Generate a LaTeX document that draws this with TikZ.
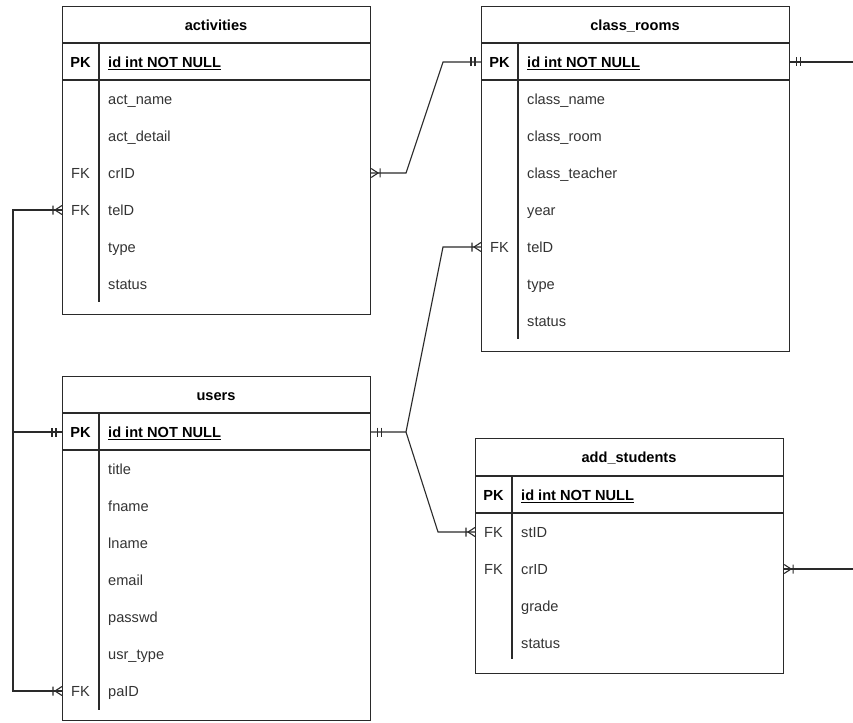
\documentclass[tikz,border=0pt]{standalone}
\usepackage{fontspec}
\setmainfont{Liberation Sans}
\definecolor{ln}{HTML}{2A2A2A}
\definecolor{tx}{HTML}{333333}
\newcommand\fieldfont{\fontsize{14.6}{17}\selectfont}
\tikzset{
  tbl/.style={draw=ln, line width=1.1pt, minimum width=308pt, anchor=north west, inner sep=0pt},
  sep/.style={draw=ln, line width=1.1pt},
  txt/.style={inner sep=0pt, text height=10.4pt, text depth=0pt},
  ttl/.style={txt, font=\fieldfont\bfseries, anchor=center, text=black},
  fld/.style={txt, font=\fieldfont, anchor=west, text=tx},
  pkfld/.style={txt, font=\fieldfont\bfseries, anchor=west, text=black},
  keyc/.style={txt, font=\fieldfont, anchor=center, text=tx},
  pkey/.style={txt, font=\fieldfont\bfseries, anchor=center, text=black},
  conn/.style={draw=ln, line width=1.1pt},
  crowfoot/.pic={\draw[conn] (0,-4.5) -- (7,0) -- (0,4.5) (9,-4.5) -- (9,4.5);},
  mandone/.pic={\draw[conn] (6,-4.5) -- (6,4.5) (10,-4.5) -- (10,4.5);}
}
\begin{document}
\begin{tikzpicture}[x=1pt,y=-1pt]
\useasboundingbox (0,0) rectangle (853,722);

% ---------- activities ----------
\node[tbl, minimum height=308pt] (act) at (62,6) {};
\draw[sep] (62,43) -- (370,43) (62,80) -- (370,80) (99,43) -- (99,302);
\node[ttl] (actT) at (216,25) {activities};
\node[pkey] (actPKk) at (80.5,62) {PK};
\node[pkfld] (actPK) at (108,62) {\underline{id int NOT NULL}};
\node[fld] (actName) at (108,99) {act\_name};
\node[fld] (actDet) at (108,136) {act\_detail};
\node[keyc] (actCrk) at (80.5,173) {FK};
\node[fld] (actCr) at (108,173) {crID};
\node[keyc] (actTek) at (80.5,210) {FK};
\node[fld] (actTe) at (108,210) {telD};
\node[fld] (actType) at (108,247) {type};
\node[fld] (actSt) at (108,284) {status};

% ---------- class_rooms ----------
\node[tbl, minimum height=345pt] (cr) at (481,6) {};
\draw[sep] (481,43) -- (789,43) (481,80) -- (789,80) (518,43) -- (518,339);
\node[ttl] (crT) at (635,25) {class\_rooms};
\node[pkey] (crPKk) at (499.5,62) {PK};
\node[pkfld] (crPK) at (527,62) {\underline{id int NOT NULL}};
\node[fld] (crName) at (527,99) {class\_name};
\node[fld] (crRoom) at (527,136) {class\_room};
\node[fld] (crTeach) at (527,173) {class\_teacher};
\node[fld] (crYear) at (527,210) {year};
\node[keyc] (crTek) at (499.5,247) {FK};
\node[fld] (crTe) at (527,247) {telD};
\node[fld] (crType) at (527,284) {type};
\node[fld] (crSt) at (527,321) {status};

% ---------- users ----------
\node[tbl, minimum height=344pt] (us) at (62,376) {};
\draw[sep] (62,413) -- (370,413) (62,450) -- (370,450) (99,413) -- (99,710);
\node[ttl] (usT) at (216,395) {users};
\node[pkey] (usPKk) at (80.5,432) {PK};
\node[pkfld] (usPK) at (108,432) {\underline{id int NOT NULL}};
\node[fld] (usTitle) at (108,469) {title};
\node[fld] (usF) at (108,506) {fname};
\node[fld] (usL) at (108,543) {lname};
\node[fld] (usE) at (108,580) {email};
\node[fld] (usP) at (108,617) {passwd};
\node[fld] (usTy) at (108,654) {usr\_type};
\node[keyc] (usPak) at (80.5,691) {FK};
\node[fld] (usPa) at (108,691) {paID};

% ---------- add_students ----------
\node[tbl, minimum height=235pt] (ad) at (475,438) {};
\draw[sep] (475,476) -- (783,476) (475,513) -- (783,513) (512,476) -- (512,659);
\node[ttl] (adT) at (629,457) {add\_students};
\node[pkey] (adPKk) at (493.5,495) {PK};
\node[pkfld] (adPK) at (521,495) {\underline{id int NOT NULL}};
\node[keyc] (adStk) at (493.5,532) {FK};
\node[fld] (adSt) at (521,532) {stID};
\node[keyc] (adCrk) at (493.5,569) {FK};
\node[fld] (adCr) at (521,569) {crID};
\node[fld] (adGr) at (521,606) {grade};
\node[fld] (adStat) at (521,643) {status};

% ---------- connectors ----------
\coordinate (j1) at (406,173);
\coordinate (j2) at (443,62);
\draw[conn] (act.east |- actCr) -- (j1) -- (j2) -- (cr.west |- crPK);

\coordinate (j3) at (406,432);
\coordinate (j4) at (443,247);
\coordinate (j5) at (438,532);
\draw[conn] (us.east |- usPK) -- (j3) -- (j4) -- (cr.west |- crTe);
\draw[conn] (j3) -- (j5) -- (ad.west |- adSt);

\coordinate (l1) at (13,210);
\coordinate (l2) at (13,432);
\coordinate (l3) at (13,691);
\draw[conn] (act.west |- actTe) -- (l1) -- (l3) -- (us.west |- usPa);
\draw[conn] (l2) -- (us.west |- usPK);

\coordinate (r1) at (853,62);
\coordinate (r2) at (853,569);
\draw[conn] (cr.east |- crPK) -- (r1);
\draw[conn] (ad.east |- adCr) -- (r2);

% ---------- markers ----------
\path (act.east |- actCr) pic {crowfoot};
\path (cr.west |- crPK) pic[rotate=180] {mandone};
\path (cr.east |- crPK) pic {mandone};
\path (us.east |- usPK) pic {mandone};
\path (us.west |- usPK) pic[rotate=180] {mandone};
\path (cr.west |- crTe) pic[rotate=180] {crowfoot};
\path (ad.west |- adSt) pic[rotate=180] {crowfoot};
\path (act.west |- actTe) pic[rotate=180] {crowfoot};
\path (us.west |- usPa) pic[rotate=180] {crowfoot};
\path (ad.east |- adCr) pic {crowfoot};
\end{tikzpicture}
\end{document}
